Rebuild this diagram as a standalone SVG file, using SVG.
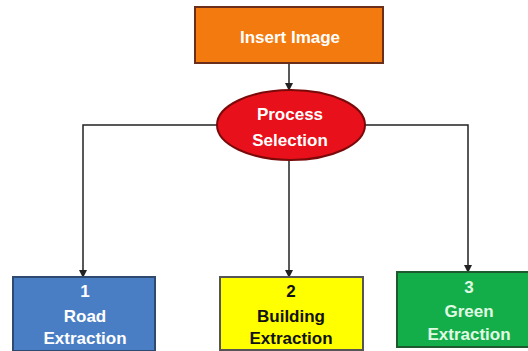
<svg xmlns="http://www.w3.org/2000/svg" width="528" height="351" viewBox="0 0 528 351">
<defs>
<marker id="ah" markerWidth="8" markerHeight="8" refX="7" refY="4" orient="auto" markerUnits="userSpaceOnUse">
<path d="M0,0 L8,4 L0,8 Z" fill="#222"/>
</marker>
<style>
.t{font-family:"Liberation Sans",Arial,sans-serif;font-weight:bold;font-size:17px;text-anchor:middle}
.w{fill:#ffffff}
.k{fill:#111111}
.c{fill:none;stroke:#222;stroke-width:1.5}
</style>
</defs>
<rect width="528" height="351" fill="#ffffff"/>
<g id="connectors">
<line class="c" x1="289" y1="63" x2="289" y2="90" marker-end="url(#ah)"/>
<polyline class="c" points="217,125 83,125 83,277" marker-end="url(#ah)"/>
<line class="c" x1="289" y1="160" x2="289" y2="277" marker-end="url(#ah)"/>
<polyline class="c" points="365,125 468,125 468,272" marker-end="url(#ah)"/>
</g>
<g id="insert-image">
<rect x="195" y="7" width="188" height="56" fill="#F27A0E" stroke="#6B2E1A" stroke-width="2"/>
<text class="t w" x="290" y="43">Insert Image</text>
</g>
<g id="process-selection">
<ellipse cx="291" cy="125" rx="74" ry="35" fill="#E8101A" stroke="#7A0A0A" stroke-width="2"/>
<text class="t w" x="290" y="120">Process</text>
<text class="t w" x="290" y="146">Selection</text>
</g>
<g id="road">
<rect x="13" y="277" width="142" height="74" fill="#4A7EC4" stroke="#2E4A70" stroke-width="2"/>
<text class="t w" x="85" y="297">1</text>
<text class="t w" x="85" y="322">Road</text>
<text class="t w" x="85" y="344">Extraction</text>
</g>
<g id="building">
<rect x="220" y="277" width="143" height="73" fill="#FFFF00" stroke="#555555" stroke-width="2"/>
<text class="t k" x="291" y="297">2</text>
<text class="t k" x="291" y="322">Building</text>
<text class="t k" x="291" y="344">Extraction</text>
</g>
<g id="green">
<rect x="397" y="272" width="146" height="75" fill="#13AE4A" stroke="#1F5A2E" stroke-width="2"/>
<text class="t" x="469" y="293" fill="#E0FAE4">3</text>
<text class="t" x="469" y="317" fill="#E0FAE4">Green</text>
<text class="t" x="469" y="340" fill="#E0FAE4">Extraction</text>
</g>
</svg>
